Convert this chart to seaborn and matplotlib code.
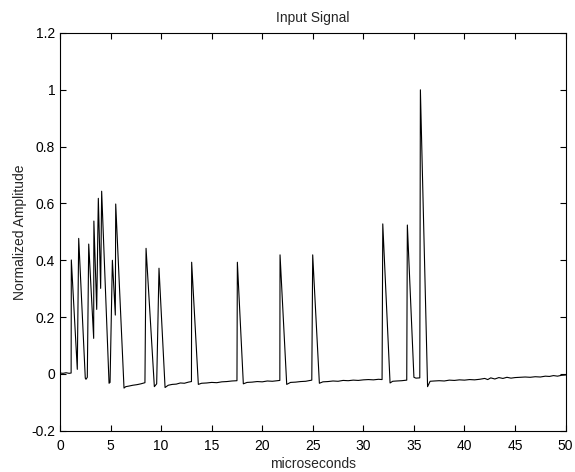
import numpy as np
import pandas as pd
import matplotlib
matplotlib.use("Agg")
import matplotlib.pyplot as plt
import seaborn as sns

# ---- data (12 points per row) ----
time_us = [
    0.0, 0.3, 0.6, 0.9, 1.10, 1.12, 1.71, 1.85, 2.50, 2.57, 2.70, 2.84,
    3.33, 3.35, 3.63, 3.79, 4.02, 4.12, 4.85, 4.95, 5.18, 5.47, 5.51, 6.33,
    6.5, 6.8, 7.2, 7.6, 8.0, 8.4, 8.51, 9.33, 9.56, 9.79, 10.39, 10.7,
    11.1, 11.5, 11.9, 12.3, 12.7, 13.0, 13.02, 13.68, 14.0, 14.5, 15.0, 15.5,
    16.0, 16.5, 17.0, 17.5, 17.54, 18.13, 18.5, 19.0, 19.5, 20.0, 20.5, 21.0,
    21.5, 21.74, 21.76, 22.42, 22.8, 23.3, 23.8, 24.3, 24.9, 24.99, 25.65, 26.0,
    26.5, 27.0, 27.5, 28.0, 28.5, 29.0, 29.5, 30.0, 30.5, 31.0, 31.5, 31.85,
    31.92, 32.64, 32.9, 33.3, 33.8, 34.29, 34.35, 35.0, 35.2, 35.58, 35.64, 36.35,
    36.6, 37.0, 37.5, 38.0, 38.5, 39.0, 39.5, 40.0, 40.5, 41.0, 41.5, 42.0,
    42.3, 42.6, 43.0, 43.4, 43.8, 44.2, 44.6, 45.0, 45.5, 46.0, 46.5, 47.0,
    47.5, 48.0, 48.4, 48.8, 49.2, 49.6, 50.0,
]
amplitude = [
    0.003, 0.002, 0.004, 0.002, 0.003, 0.401, 0.016, 0.477, -0.015, -0.019, -0.012, 0.457,
    0.125, 0.538, 0.227, 0.618, 0.301, 0.643, -0.033, -0.030, 0.400, 0.207, 0.598, -0.050,
    -0.045, -0.043, -0.040, -0.038, -0.035, -0.031, 0.442, -0.045, -0.035, 0.372, -0.048, -0.040,
    -0.037, -0.036, -0.032, -0.033, -0.029, -0.027, 0.393, -0.037, -0.033, -0.032, -0.030, -0.031,
    -0.028, -0.027, -0.025, -0.024, 0.393, -0.035, -0.030, -0.029, -0.027, -0.028, -0.025, -0.026,
    -0.024, -0.023, 0.419, -0.037, -0.030, -0.029, -0.027, -0.026, -0.022, 0.419, -0.033, -0.028,
    -0.027, -0.025, -0.026, -0.023, -0.024, -0.022, -0.023, -0.021, -0.020, -0.021, -0.019, -0.020,
    0.528, -0.032, -0.026, -0.025, -0.024, -0.022, 0.524, -0.012, -0.015, -0.014, 1.000, -0.045,
    -0.026, -0.025, -0.024, -0.025, -0.022, -0.023, -0.021, -0.022, -0.020, -0.021, -0.019, -0.016,
    -0.020, -0.014, -0.018, -0.013, -0.016, -0.012, -0.015, -0.013, -0.012, -0.011, -0.012, -0.010,
    -0.011, -0.008, -0.009, -0.006, -0.008, -0.005, -0.004,
]
x_ticks = [0, 5, 10, 15, 20, 25, 30, 35, 40, 45, 50]
y_ticks = [-0.2, 0, 0.2, 0.4, 0.6, 0.8, 1, 1.2]
y_tick_labels = ["-0.2", "0", "0.2", "0.4", "0.6", "0.8", "1", "1.2"]

df = pd.DataFrame({"t": time_us, "amp": amplitude})

sns.set_theme(style="white")
plt.rcParams["font.family"] = ["Liberation Sans", "DejaVu Sans"]

fig = plt.figure(figsize=(5.75, 4.72), dpi=100)
ax = fig.add_axes([60 / 575, 1 - 430.7 / 472, (565.6 - 60) / 575, (430.7 - 33) / 472])

sns.lineplot(data=df, x="t", y="amp", ax=ax, color="black", linewidth=0.8,
             estimator=None, sort=False)

ax.set_xlim(0, 50)
ax.set_ylim(-0.2, 1.2)
ax.set_xticks(x_ticks)
ax.set_xticklabels([str(v) for v in x_ticks])
ax.set_yticks(y_ticks)
ax.set_yticklabels(y_tick_labels)
ax.tick_params(direction="in", length=4, width=0.8, colors="black", labelsize=10,
               top=True, right=True, bottom=True, left=True)
ax.tick_params(axis="x", pad=6)
ax.tick_params(axis="y", pad=3.5)
for s in ax.spines.values():
    s.set_visible(True)
    s.set_color("black")
    s.set_linewidth(0.8)

ax.set_title("Input Signal", fontsize=10, pad=8)
ax.set_xlabel("microseconds", fontsize=10, labelpad=2.5)
ax.set_ylabel("Normalized Amplitude", fontsize=10, labelpad=3)
ax.grid(False)

fig.savefig("out.png", dpi=100)
